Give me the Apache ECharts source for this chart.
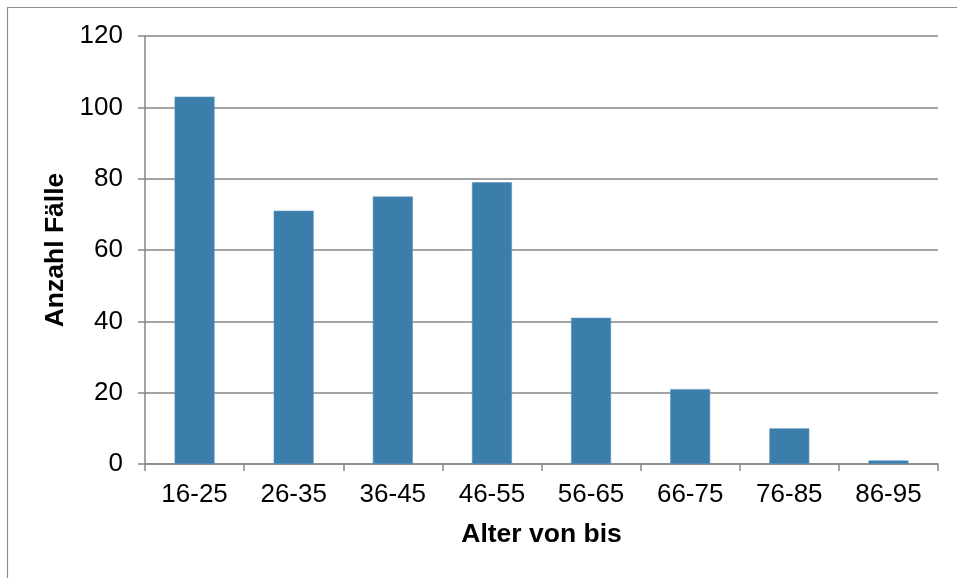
<!DOCTYPE html>
<html>
<head>
<meta charset="utf-8">
<script src="https://cdn.jsdelivr.net/npm/echarts@6/dist/echarts.min.js"></script>
<style>
  html, body { margin: 0; padding: 0; background: #fff; }
  #chart { width: 957px; height: 578px; }
</style>
</head>
<body>
<div id="chart"></div>
<script>
// Age groups and number of cases per group
const ageGroups = ['16-25', '26-35', '36-45', '46-55', '56-65', '66-75', '76-85', '86-95'];
const caseCounts = [103, 71, 75, 79, 41, 21, 10, 1];
const yTicks = { min: 0, max: 120, interval: 20 };

const axisGrey = '#868686';
const font = 'Liberation Sans, Arial, sans-serif';

const chart = echarts.init(document.getElementById('chart'), null, { renderer: 'canvas' });

chart.setOption({
  backgroundColor: '#ffffff',
  animation: false,
  graphic: [{
    type: 'rect',
    shape: { x: 7.5, y: 7.5, width: 1200, height: 1200 },
    style: { fill: 'none', stroke: '#8c8c8c', lineWidth: 1.2 },
    silent: true
  }],
  grid: { left: 145, right: 19, top: 36, bottom: 114, containLabel: false },
  xAxis: {
    type: 'category',
    data: ageGroups,
    boundaryGap: true,
    name: 'Alter von bis',
    nameLocation: 'middle',
    nameGap: 57,
    nameTextStyle: { fontFamily: font, fontSize: 26.5, fontWeight: 'bold', color: '#000' },
    axisLine: { show: true, lineStyle: { color: axisGrey, width: 1.5 } },
    axisTick: { show: true, alignWithLabel: false, length: 7, lineStyle: { color: axisGrey, width: 1.5 } },
    axisLabel: { fontFamily: font, fontSize: 26, color: '#000', margin: 18, interval: 0 },
    splitLine: { show: false }
  },
  yAxis: {
    type: 'value',
    min: yTicks.min,
    max: yTicks.max,
    interval: yTicks.interval,
    name: 'Anzahl Fälle',
    nameLocation: 'middle',
    nameGap: 71,
    nameRotate: 90,
    nameTextStyle: { fontFamily: font, fontSize: 26.5, fontWeight: 'bold', color: '#000' },
    axisLine: { show: true, lineStyle: { color: axisGrey, width: 1.5 } },
    axisTick: { show: true, length: 7, lineStyle: { color: axisGrey, width: 1.5 } },
    axisLabel: { fontFamily: font, fontSize: 26, color: '#000', margin: 22 },
    splitLine: { show: true, lineStyle: { color: axisGrey, width: 1.5 } }
  },
  series: [{
    type: 'bar',
    data: caseCounts,
    barWidth: 40,
    itemStyle: { color: '#3c7eab', borderColor: '#5f96bf', borderWidth: 0.6 }
  }]
});
</script>
</body>
</html>
